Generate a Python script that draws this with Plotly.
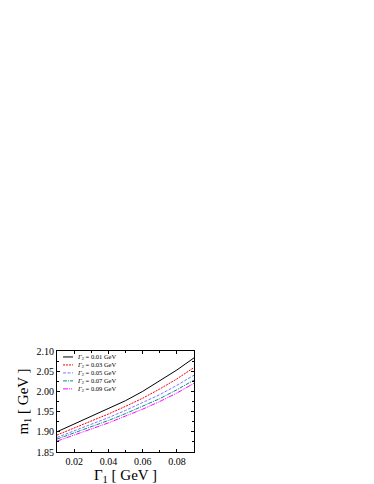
import plotly.graph_objects as go

# Gamma_1 values (GeV)
gamma1 = [0.01, 0.02, 0.03, 0.04, 0.05, 0.06, 0.07, 0.08, 0.09]

# m_1 (GeV) for each Gamma_2
m1_g2_001 = [1.900, 1.919, 1.938, 1.957, 1.977, 2.000, 2.026, 2.053, 2.083]
m1_g2_003 = [1.892, 1.909, 1.926, 1.944, 1.963, 1.983, 2.006, 2.031, 2.059]
m1_g2_005 = [1.886, 1.902, 1.918, 1.935, 1.953, 1.972, 1.992, 2.015, 2.040]
m1_g2_007 = [1.882, 1.897, 1.912, 1.928, 1.945, 1.963, 1.982, 2.004, 2.028]
m1_g2_009 = [1.877, 1.892, 1.907, 1.922, 1.939, 1.956, 1.975, 1.996, 2.020]

labels = ["0.01", "0.03", "0.05", "0.07", "0.09"]
series = [m1_g2_001, m1_g2_003, m1_g2_005, m1_g2_007, m1_g2_009]
colors = ["#000000", "#ff0000", "#7777ff", "#008b8b", "#ff00ff"]
dashes = ["solid", "2px,1px", "3px,1.5px", "4px,1px,1px,1px",
          "5px,1px,1px,1px,1px,1px"]

font = "Liberation Serif"

fig = go.Figure()
for lab, ys, c, d in zip(labels, series, colors, dashes):
    fig.add_trace(go.Scatter(
        x=gamma1, y=ys, mode="lines",
        line=dict(color=c, width=1, dash=d),
        showlegend=False, hoverinfo="skip",
    ))

# compact legend drawn by hand (plotly's legend rows are too tall)
for i, (lab, c, d) in enumerate(zip(labels, colors, dashes)):
    yy = 0.941 - i * 0.079
    fig.add_shape(type="line", xref="paper", yref="paper",
                  x0=0.044, x1=0.117, y0=yy, y1=yy,
                  line=dict(color=c, width=1, dash=d))
    fig.add_annotation(xref="paper", yref="paper", x=0.128, y=yy,
                       xanchor="left", yanchor="middle", showarrow=False,
                       text="<i>Γ</i><sub>2</sub> = " + lab + " GeV",
                       font=dict(family=font, size=6.5, color="black"))

axis_common = dict(
    showline=True, linecolor="black", linewidth=1, mirror="ticks",
    ticks="inside", ticklen=3, tickcolor="black", showgrid=False, zeroline=False,
    tickfont=dict(family=font, size=10, color="black"),
)

fig.update_layout(
    width=374, height=484,
    margin=dict(l=49, r=188, t=343, b=40),
    plot_bgcolor="white", paper_bgcolor="white",
    font=dict(family=font, color="black"),
    hovermode=False,
    xaxis=dict(
        range=[0.01, 0.09], tickvals=[0.02, 0.04, 0.06, 0.08],
        ticktext=["0.02", "0.04", "0.06", "0.08"],
        minor=dict(ticks="inside", ticklen=2, dtick=0.01, tickcolor="black"),
        title=dict(text="Γ<sub>1</sub> [ GeV ]", font=dict(family=font, size=15), standoff=3),
        **axis_common,
    ),
    yaxis=dict(
        range=[1.85, 2.10], tickvals=[1.85, 1.90, 1.95, 2.00, 2.05, 2.10],
        ticktext=["1.85", "1.90", "1.95", "2.00", "2.05", "2.10"],
        minor=dict(ticks="inside", ticklen=2, dtick=0.025, tickcolor="black"),
        title=dict(text="m<sub>1</sub> [ GeV ]", font=dict(family=font, size=15), standoff=4),
        **axis_common,
    ),
    showlegend=False,
)

fig.write_html("out.html")
